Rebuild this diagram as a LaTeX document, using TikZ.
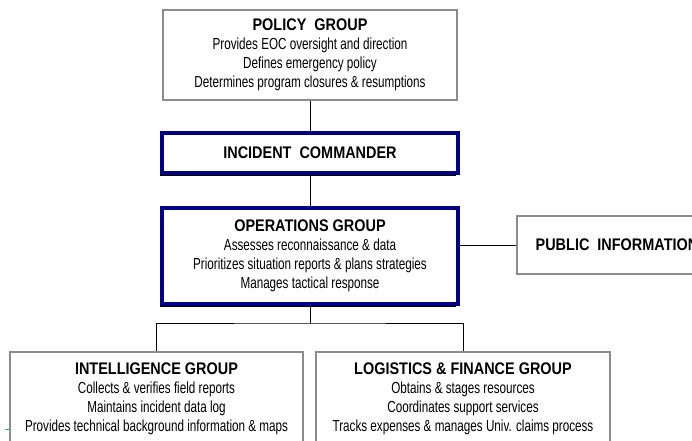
\documentclass[tikz,border=0pt]{standalone}
\usepackage{fontspec}
\setmainfont{Liberation Sans}
\newfontfamily\narrowfont[FakeStretch=0.73]{Liberation Sans}
\newfontfamily\headfont[FakeStretch=0.86]{Liberation Sans}
\usetikzlibrary{shadows}
\definecolor{boxgray}{RGB}{140,140,140}
\definecolor{cmdblue}{RGB}{0,0,128}
\definecolor{tickteal}{RGB}{40,170,150}
\newcommand{\grouptitle}[1]{{\headfont\bfseries\fontsize{12.6}{14.6}\selectfont #1}}

\begin{document}
\begin{tikzpicture}[x=0.75pt,y=-0.75pt]
\tikzstyle{every node}=[align=center,inner sep=1pt,font=\narrowfont\fontsize{12}{14.2}\selectfont]
\tikzstyle{plain box}=[draw=boxgray,line width=1.5pt,fill=white]
\tikzstyle{lead box}=[draw=cmdblue,line width=3pt,fill=white,
                      drop shadow={shadow xshift=-1.5pt,shadow yshift=-2.25pt,fill=black,opacity=1}]
\tikzstyle{link}=[line width=0.75pt]
\useasboundingbox (0,0) rectangle (692,440);
\node[plain box,minimum width=220.5pt,minimum height=67.5pt] (policy) at (310,55)
  {\grouptitle{POLICY\ \ GROUP}\\
   Provides EOC oversight and direction\\
   Defines emergency policy\\
   Determines program closures \& resumptions};
\node[lead box,minimum width=222pt,minimum height=30pt] (commander) at (310,153)
  {\grouptitle{INCIDENT\ \ COMMANDER}};
\node[lead box,minimum width=222pt,minimum height=72pt] (operations) at (310,256)
  {\grouptitle{OPERATIONS GROUP}\\
   Assesses reconnaissance \& data\\
   Prioritizes situation reports \& plans strategies\\
   Manages tactical response};
\node[plain box,anchor=west,minimum width=150pt,minimum height=43.5pt] (public) at (516,245)
  {\grouptitle{PUBLIC\ \ INFORMATION}};
\node[plain box,minimum width=219.75pt,minimum height=70.5pt] (intelligence) at (156.5,399)
  {\grouptitle{INTELLIGENCE GROUP}\\
   Collects \& verifies field reports\\
   Maintains incident data log\\
   Provides technical background information \& maps};
\node[plain box,minimum width=220.5pt,minimum height=70.5pt] (logistics) at (463,399)
  {\grouptitle{LOGISTICS \& FINANCE GROUP}\\
   Obtains \& stages resources\\
   Coordinates support services\\
   Tracks expenses \& manages Univ. claims process};
\coordinate (split) at (310,323);
\draw[link] (policy.south) -- (commander.north);
\draw[link] (commander.south) -- (operations.north);
\draw[link] (operations.east |- public.west) -- (public.west);
\draw[link] (operations.south) -- (split);
\draw[link] (intelligence.north) |- (split) -| (logistics.north);
\draw[tickteal,line width=0.75pt] (5,429) -- (9,429);
\end{tikzpicture}
\end{document}
